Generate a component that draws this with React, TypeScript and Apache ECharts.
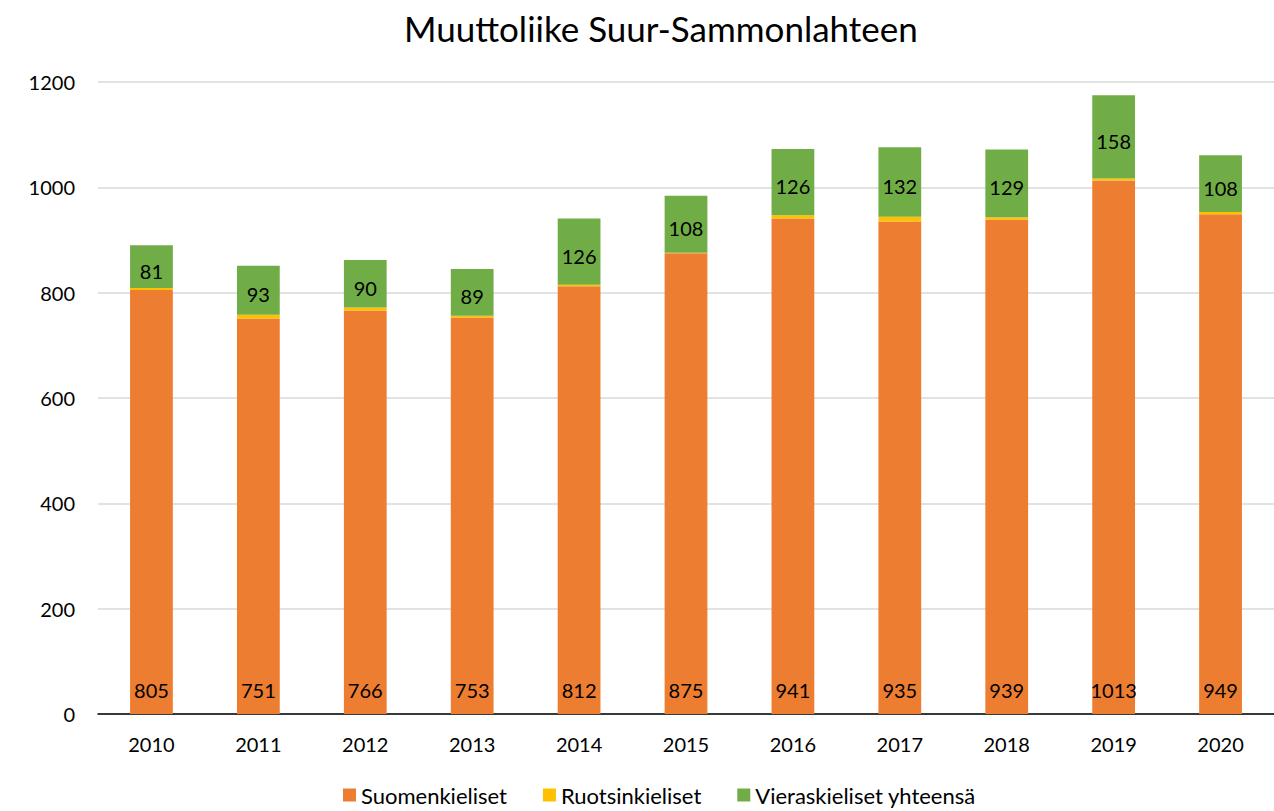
import React, { useEffect, useRef } from "react";
import * as echarts from "echarts";

const years = ["2010", "2011", "2012", "2013", "2014", "2015", "2016", "2017", "2018", "2019", "2020"];
const suomenkieliset = [805, 751, 766, 753, 812, 875, 941, 935, 939, 1013, 949];
const ruotsinkieliset = [4, 7, 6, 3, 3, 1, 6, 9, 4, 4, 4];
const vieraskieliset = [81, 93, 90, 89, 126, 108, 126, 132, 129, 158, 108];
const seriesNames = ["Suomenkieliset", "Ruotsinkieliset", "Vieraskieliset yhteensä"];

const FONT = "Lato, 'Open Sans', sans-serif";

export default function App() {
  const ref = useRef<HTMLDivElement>(null);
  useEffect(() => {
    document.body.style.margin = "0";
    const chart = echarts.init(ref.current!, null, { renderer: "svg" });
    const labelStyle = { color: "#000", fontSize: 20, fontFamily: FONT };
    chart.setOption({
      animation: false,
      textStyle: { fontFamily: FONT },
      title: {
        text: "Muuttoliike Suur-Sammonlahteen",
        left: 399,
        top: 5,
        textStyle: { fontSize: 35, fontWeight: "normal", color: "#000", fontFamily: FONT },
      },
      grid: { left: 98, top: 82, width: 1180, bottom: 97, containLabel: false },
      legend: {
        bottom: 0,
        left: 338,
        itemWidth: 13,
        itemHeight: 13,
        itemGap: 36,
        icon: "rect",
        textStyle: { fontSize: 22, color: "#000", fontFamily: FONT, padding: [0, 0, 0, 0] },
        data: seriesNames,
      },
      xAxis: {
        type: "category",
        data: years,
        axisLine: { lineStyle: { color: "#000", width: 1.5 } },
        axisTick: { show: false },
        axisLabel: { fontSize: 20, color: "#000", margin: 20, fontFamily: FONT },
      },
      yAxis: {
        type: "value",
        min: 0,
        max: 1200,
        interval: 200,
        axisLine: { show: false },
        axisTick: { show: false },
        splitLine: { lineStyle: { color: "#d9d9d9", width: 1.5 } },
        axisLabel: {
          fontSize: 20,
          color: "#000",
          margin: 23,
          fontFamily: FONT,
          formatter: (v: number) => String(v),
        },
      },
      series: [
        {
          name: seriesNames[0],
          type: "bar",
          stack: "total",
          data: suomenkieliset,
          barWidth: "40%",
          itemStyle: { color: "#ED7D31" },
          label: { show: true, position: "insideBottom", distance: 14, ...labelStyle },
        },
        {
          name: seriesNames[1],
          type: "bar",
          stack: "total",
          data: ruotsinkieliset,
          barWidth: "40%",
          itemStyle: { color: "#FFC000" },
          label: { show: false },
        },
        {
          name: seriesNames[2],
          type: "bar",
          stack: "total",
          data: vieraskieliset,
          barWidth: "40%",
          itemStyle: { color: "#70AD47" },
          label: { show: true, position: "inside", offset: [0, 4], ...labelStyle },
        },
      ],
    });
    return () => chart.dispose();
  }, []);
  return <div ref={ref} style={{ width: 1274, height: 811 }} />;
}
